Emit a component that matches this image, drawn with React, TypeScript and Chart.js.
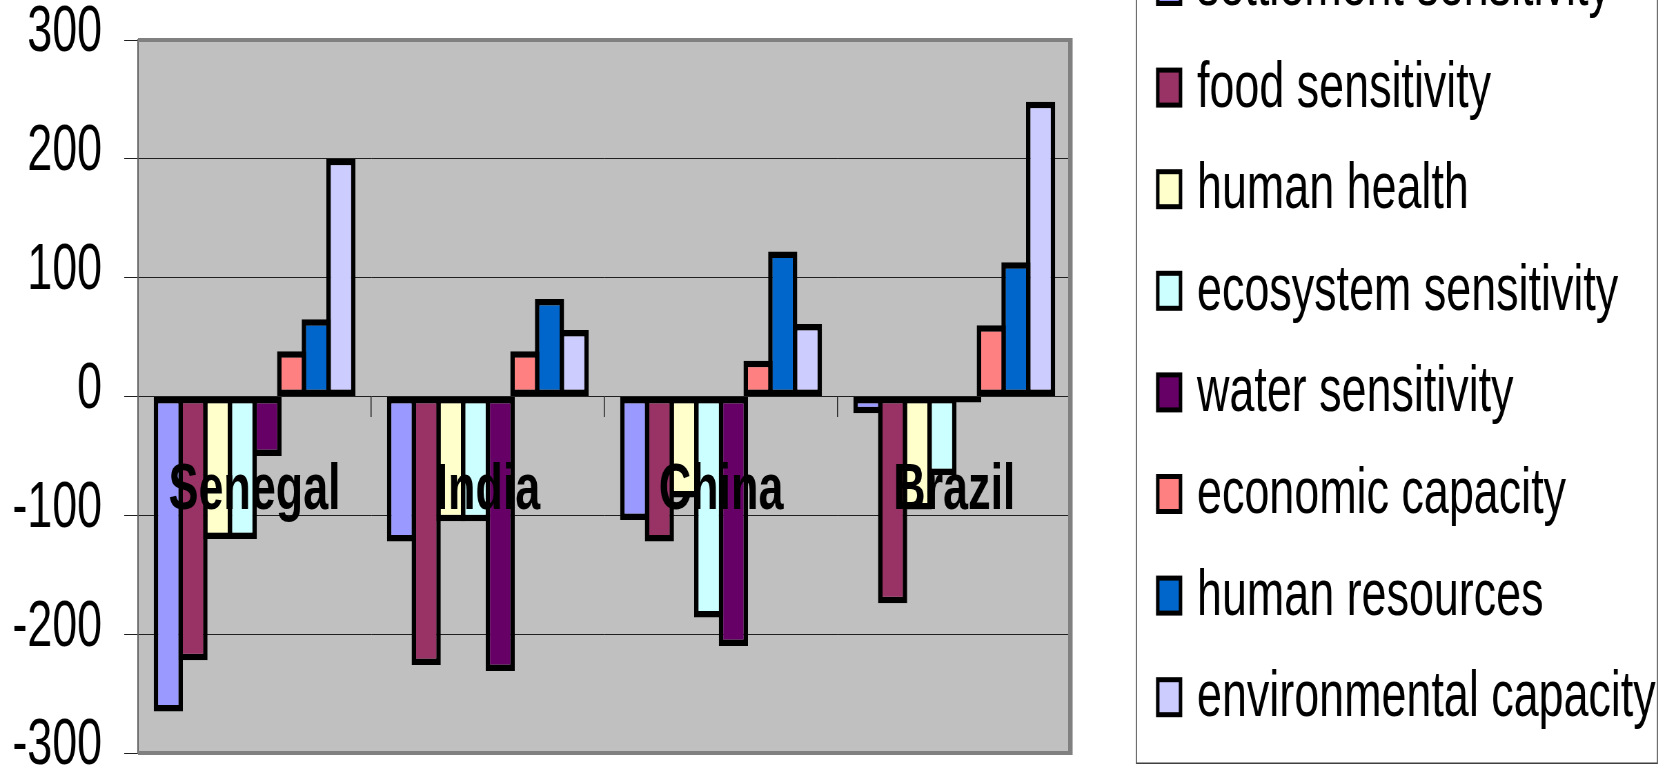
import React, { useEffect, useRef } from "react";
import { Chart, registerables } from "chart.js";

Chart.register(...registerables);

// ---------- data ----------
const categories = ["Senegal", "India", "China", "Brazil"];
const seriesNames = [
  "settlement sensitivity",
  "food sensitivity",
  "human health",
  "ecosystem sensitivity",
  "water sensitivity",
  "economic capacity",
  "human resources",
  "environmental capacity",
];
const settlementSensitivity = [-265, -122, -104, -14];
const foodSensitivity = [-222, -226, -122, -174];
const humanHealth = [-120, -105, -85, -95];
const ecosystemSensitivity = [-120, -105, -186, -66];
const waterSensitivity = [-50, -231, -210, -5];
const economicCapacity = [38, 38, 30, 60];
const humanResources = [65, 82, 122, 113];
const environmentalCapacity = [200, 56, 61, 248];
const seriesColors = [
  "#9999FF",
  "#993366",
  "#FFFFCC",
  "#CCFFFF",
  "#660066",
  "#FF8080",
  "#0066CC",
  "#CCCCFF",
];
const yMin = -300;
const yMax = 300;
const yStep = 100;

// ---------- layout / style ----------
const SX = 0.69; // horizontal condensation of the whole picture
const W = 2422; // canvas width before condensation
const H = 771;
const FAMILY = "'Liberation Sans', Arial, sans-serif";

const seriesValues = [
  settlementSensitivity,
  foodSensitivity,
  humanHealth,
  ecosystemSensitivity,
  waterSensitivity,
  economicCapacity,
  humanResources,
  environmentalCapacity,
];

const plotBackground = {
  id: "plotBackground",
  beforeDraw(chart: any) {
    const { ctx, chartArea } = chart;
    ctx.save();
    ctx.fillStyle = "#C0C0C0";
    ctx.fillRect(chartArea.left, chartArea.top, chartArea.right - chartArea.left, chartArea.bottom - chartArea.top);
    ctx.restore();
  },
};

const plotFrame = {
  id: "plotFrame",
  afterDraw(chart: any) {
    const { ctx, chartArea } = chart;
    const { left, right, top, bottom } = chartArea;
    ctx.save();
    ctx.fillStyle = "#808080";
    ctx.fillRect(left, top - 2, right - left + 2, 4);
    ctx.fillRect(left, bottom - 2, right - left + 2, 4);
    ctx.fillRect(right - 4, top - 2, 6.5, bottom - top + 4);
    ctx.restore();
  },
};

const sideLegend = {
  id: "sideLegend",
  afterDraw(chart: any) {
    const ctx = chart.ctx;
    ctx.save();
    ctx.fillStyle = "#FFFFFF";
    ctx.strokeStyle = "#404040";
    ctx.lineWidth = 1.5;
    ctx.beginPath();
    ctx.rect(1647, -100, 755, 863.3);
    ctx.fill();
    ctx.stroke();
    chart.data.datasets.forEach((ds: any, i: number) => {
      const base = 5 + i * 101.6;
      const bx = 1675.4 + 2.5;
      const by = base - 39 + 2.5;
      ctx.fillStyle = ds.backgroundColor;
      ctx.fillRect(bx, by, 38 - 5, 40 - 5);
      ctx.lineWidth = 5;
      ctx.strokeStyle = "#000000";
      ctx.strokeRect(bx, by, 38 - 5, 40 - 5);
      ctx.fillStyle = "#000000";
      ctx.font = `65px ${FAMILY}`;
      ctx.textAlign = "left";
      ctx.textBaseline = "alphabetic";
      ctx.fillText(ds.label, 1734.8, base);
    });
    ctx.restore();
  },
};

export default function App() {
  const canvasRef = useRef<HTMLCanvasElement>(null);

  useEffect(() => {
    const canvas = canvasRef.current;
    if (!canvas) return;
    const chart = new Chart(canvas, {
      type: "bar",
      data: {
        labels: categories,
        datasets: seriesNames.map((name, i) => ({
          label: name,
          data: seriesValues[i],
          backgroundColor: seriesColors[i],
          borderColor: "#000000",
          borderWidth: 6.5,
          borderSkipped: false,
          inflateAmount: 0,
          categoryPercentage: 0.846,
          barPercentage: 1.182,
        })),
      },
      options: {
        responsive: false,
        animation: false,
        devicePixelRatio: 1,
        layout: { padding: { top: 40, bottom: 18, left: 0, right: 870 } },
        plugins: {
          legend: { display: false },
          tooltip: { enabled: false },
        },
        scales: {
          x: {
            type: "category",
            position: { y: 0 } as any,
            offset: true,
            grid: {
              display: true,
              drawOnChartArea: false,
              drawTicks: true,
              tickLength: 20,
              color: "#202020",
              lineWidth: 1.5,
              offset: true,
            },
            border: { display: false },
            ticks: {
              z: 1,
              padding: 36,
              color: "#000000",
              maxRotation: 0,
              autoSkip: false,
              font: { family: FAMILY, size: 65, weight: "bold" },
            },
            afterFit: (scale: any) => {
              scale.paddingTop = 0;
              scale.paddingBottom = 0;
            },
          },
          y: {
            min: yMin,
            max: yMax,
            ticks: {
              stepSize: yStep,
              padding: 32,
              color: "#000000",
              font: { family: FAMILY, size: 65, lineHeight: "13px" },
              callback: (v: any) => [String(v), ""],
            },
            grid: { color: "#202020", lineWidth: 1, tickLength: 20, drawTicks: true },
            border: { display: true, color: "#606060", width: 2 },
            afterFit: (scale: any) => {
              scale.width = 200;
              scale.paddingTop = 0;
              scale.paddingBottom = 0;
            },
          },
        },
      },
      plugins: [plotBackground, plotFrame, sideLegend],
    } as any);
    return () => chart.destroy();
  }, []);

  return (
    <div
      style={{
        position: "fixed",
        left: 0,
        top: 0,
        width: 1671,
        height: 771,
        overflow: "hidden",
        background: "#FFFFFF",
      }}
    >
      <div style={{ width: W, height: H, transform: `scaleX(${SX})`, transformOrigin: "0 0" }}>
        <canvas ref={canvasRef} width={W} height={H} style={{ display: "block" }} />
      </div>
    </div>
  );
}
